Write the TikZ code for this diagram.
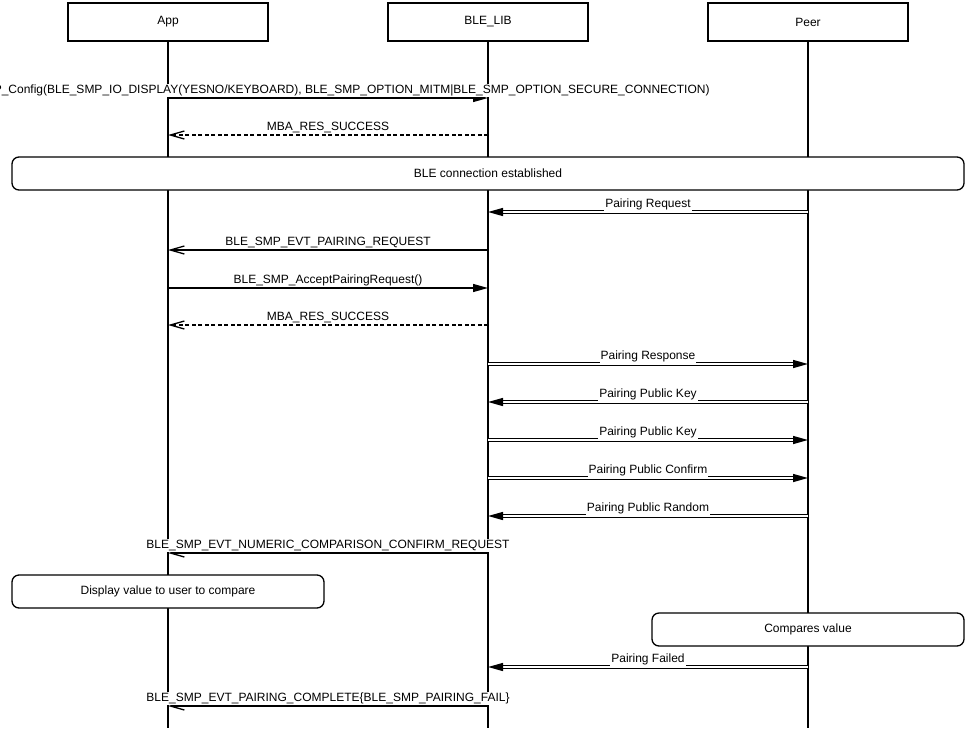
\documentclass[tikz,border=0pt]{standalone}
\usepackage{fontspec}
\setmainfont{Liberation Sans}
\usetikzlibrary{arrows.meta}

\begin{document}
\begin{tikzpicture}[x=1pt,y=-1pt,
  every node/.style={font=\fontsize{12}{14}\selectfont},
  actor/.style={draw,line width=1.3pt,minimum width=200pt,minimum height=38pt,inner sep=0pt},
  note/.style={draw,fill=white,line width=1.3pt,rounded corners=7pt,minimum height=33pt,inner sep=0pt},
  lbl/.style={fill=white,inner sep=1pt,text height=9pt,text depth=2.5pt,above=0pt},
  call/.style={line width=1.3pt,-{Triangle[length=15pt,width=8pt]}},
  evt/.style={line width=1.3pt,-{Straight Barb[length=14pt,width=8pt]}},
  ret/.style={evt,dash pattern=on 4pt off 2.5pt},
  dbl/.style={double,double distance=1.8pt,line width=1.4pt,-{Triangle[length=15pt,width=8pt]}}]
\useasboundingbox (0,0) rectangle (976,728);
% lifelines
\node[actor] (app) at (168,22) {App};
\node[actor] (lib) at (488,22) {BLE\_LIB};
\node[actor] (peer) at (808,22) {Peer};
\coordinate (bottom) at (0,728);
\foreach \l in {app,lib,peer}
  \draw[line width=1.3pt] (\l.south) -- (\l.south |- bottom);
% message rows
\coordinate (r1) at (0,98);
\coordinate (r2) at (0,135);
\coordinate (r3) at (0,212);
\coordinate (r4) at (0,250);
\coordinate (r5) at (0,288);
\coordinate (r6) at (0,325);
\coordinate (r7) at (0,364);
\coordinate (r8) at (0,402);
\coordinate (r9) at (0,440);
\coordinate (r10) at (0,478);
\coordinate (r11) at (0,516);
\coordinate (r12) at (0,553);
\coordinate (r13) at (0,667);
\coordinate (r14) at (0,706);

\draw[call] (app |- r1) -- node[lbl] (t1) {BLE\_SMP\_Config(BLE\_SMP\_IO\_DISPLAY(YESNO/KEYBOARD), BLE\_SMP\_OPTION\_MITM|BLE\_SMP\_OPTION\_SECURE\_CONNECTION)} (lib |- r1);
\draw[ret] (lib |- r2) -- node[lbl] (t2) {MBA\_RES\_SUCCESS} (app |- r2);
\node[note,minimum width=952pt] (conn) at (488,173.5) {BLE connection established};
\draw[dbl] (peer |- r3) -- node[lbl] (t3) {Pairing Request} (lib |- r3);
\draw[evt] (lib |- r4) -- node[lbl] (t4) {BLE\_SMP\_EVT\_PAIRING\_REQUEST} (app |- r4);
\draw[call] (app |- r5) -- node[lbl] (t5) {BLE\_SMP\_AcceptPairingRequest()} (lib |- r5);
\draw[ret] (lib |- r6) -- node[lbl] (t6) {MBA\_RES\_SUCCESS} (app |- r6);
\draw[dbl] (lib |- r7) -- node[lbl] (t7) {Pairing Response} (peer |- r7);
\draw[dbl] (peer |- r8) -- node[lbl] (t8) {Pairing Public Key} (lib |- r8);
\draw[dbl] (lib |- r9) -- node[lbl] (t9) {Pairing Public Key} (peer |- r9);
\draw[dbl] (lib |- r10) -- node[lbl] (t10) {Pairing Public Confirm} (peer |- r10);
\draw[dbl] (peer |- r11) -- node[lbl] (t11) {Pairing Public Random} (lib |- r11);
\draw[evt] (lib |- r12) -- node[lbl] (t12) {BLE\_SMP\_EVT\_NUMERIC\_COMPARISON\_CONFIRM\_REQUEST} (app |- r12);
\node[note,minimum width=312pt] (show) at (168,591.5) {Display value to user to compare};
\node[note,minimum width=312pt] (cmp) at (808,629.5) {Compares value};
\draw[dbl] (peer |- r13) -- node[lbl] (t13) {Pairing Failed} (lib |- r13);
\draw[evt] (lib |- r14) -- node[lbl] (t14) {BLE\_SMP\_EVT\_PAIRING\_COMPLETE\{BLE\_SMP\_PAIRING\_FAIL\}} (app |- r14);
\end{tikzpicture}
\end{document}
